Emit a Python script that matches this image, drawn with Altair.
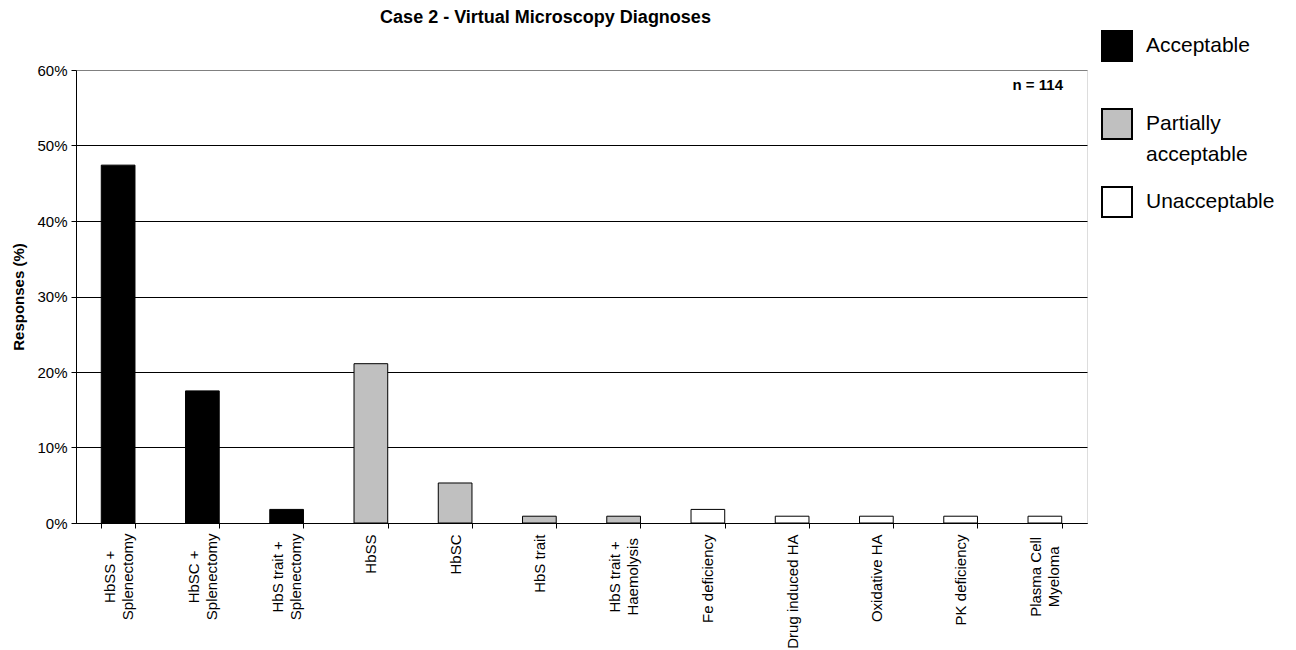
import altair as alt
import pandas as pd

categories = [
    "HbSS +\nSplenectomy", "HbSC +\nSplenectomy", "HbS trait +\nSplenectomy",
    "HbSS", "HbSC", "HbS trait", "HbS trait +\nHaemolysis", "Fe deficiency",
    "Drug induced HA", "Oxidative HA", "PK deficiency", "Plasma Cell\nMyeloma",
]
responses = [0.474, 0.175, 0.018, 0.211, 0.053, 0.009, 0.009, 0.018,
             0.009, 0.009, 0.009, 0.009]
grades = ["Acceptable", "Acceptable", "Acceptable",
          "Partially acceptable", "Partially acceptable", "Partially acceptable",
          "Partially acceptable", "Unacceptable", "Unacceptable",
          "Unacceptable", "Unacceptable", "Unacceptable"]
grade_order = ["Acceptable", "Partially acceptable", "Unacceptable"]
grade_colors = ["#000000", "#c0c0c0", "#ffffff"]
y_ticks = [0, 0.1, 0.2, 0.3, 0.4, 0.5, 0.6]
n_label = "n = 114"

df = pd.DataFrame({"cat": categories, "val": responses, "grade": grades})

FONT = "Liberation Sans"

MULTI = "indexof(datum.label, '\\n') >= 0"
PAD_MULTI = ("6 + 3.85 * max(length(split(datum.label, '\\n')[0]), "
             "length(split(datum.label, '\\n')[1]))")

bars = alt.Chart(df).mark_bar(stroke="black", strokeWidth=1).encode(
    x=alt.X("cat:N", sort=categories, title=None,
            scale=alt.Scale(paddingInner=0.6, paddingOuter=0.3),
            axis=alt.Axis(labelAngle=270, labelExpr="split(datum.label, '\\n')",
                          labelFontSize=15, labelLineHeight=18,
                          labelPadding={"condition": {"test": MULTI, "expr": PAD_MULTI}, "value": 6},
                          labelAlign={"condition": {"test": MULTI, "value": "center"}, "value": "right"},
                          labelOffset={"condition": {"test": MULTI, "value": -9}, "value": 0},
                          labelColor="black", tickBand="extent", tickSize=5,
                          tickColor="black", domainColor="black", grid=False,
                          labelFont=FONT)),
    y=alt.Y("val:Q", title="Responses (%)",
            scale=alt.Scale(domain=[0, 0.6], nice=False),
            axis=alt.Axis(values=y_ticks, format=".0%", labelFontSize=15,
                          labelColor="black", labelFont=FONT, tickSize=5,
                          tickColor="black", domainColor="black",
                          gridColor={"condition": {"test": "datum.value >= 0.6", "value": "#808080"}, "value": "black"},
                          gridWidth=1, titleFont=FONT, titleFontSize=15,
                          titleFontWeight="bold", titleColor="black",
                          titlePadding=10, labelPadding=4)),
    color=alt.Color("grade:N", title=None,
                    scale=alt.Scale(domain=grade_order, range=grade_colors),
                    legend=alt.Legend(orient="none", legendX=1025, legendY=-40,
                                      symbolType="square", symbolSize=900,
                                      symbolStrokeColor="black", symbolStrokeWidth=2,
                                      labelFontSize=21, labelFont=FONT,
                                      labelColor="black", gridAlign="all",
                                      labelOffset=13, rowPadding=18, padding=0,
                                      labelLimit=300,
                                      labelExpr="datum.label == 'Partially acceptable' ? ['Partially', 'acceptable'] : datum.label")),
)

ntext = alt.Chart(pd.DataFrame({"t": [n_label]})).mark_text(
    align="right", baseline="middle", fontSize=15, fontWeight="bold",
    font=FONT, color="black"
).encode(text="t:N", x=alt.value(987), y=alt.value(15))

chart = alt.layer(bars, ntext).properties(
    width=1011, height=453,
    title=alt.TitleParams("Case 2 - Virtual Microscopy Diagnoses", fontSize=18,
                          fontWeight="bold", font=FONT, color="black",
                          anchor="middle", frame="group", dx=-36, offset=3),
    autosize=alt.AutoSizeParams(type="none"),
    padding={"left": 68, "top": 62, "right": 200, "bottom": 125},
).configure_view(stroke="#808080", strokeWidth=1).configure(
    background="white", style={"guide-label": {"lineHeight": 31}})

chart.save("out.html", embed_options={"renderer": "svg", "actions": False})
